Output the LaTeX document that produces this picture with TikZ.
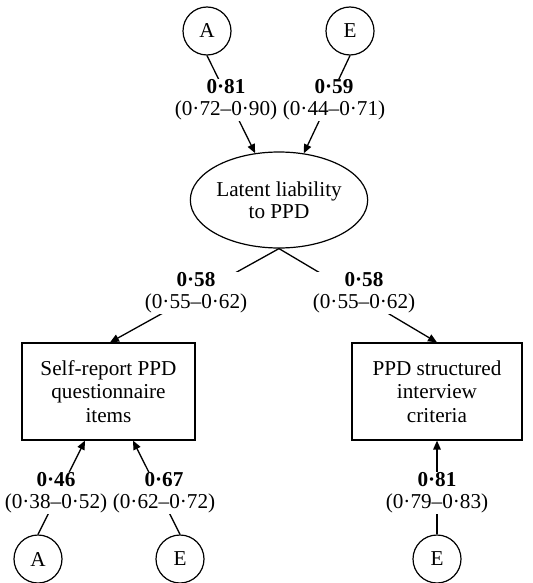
\documentclass[tikz,border=0pt]{standalone}
\usepackage{fontspec}
\setmainfont{Liberation Serif}
\usetikzlibrary{shapes.geometric,arrows.meta}
\begin{document}
\begin{tikzpicture}[x=0.5pt,y=-0.5pt,
  every node/.style={font=\fontsize{10.6}{11}\selectfont},
  latent/.style={circle,draw,line width=0.6pt,minimum size=24pt,inner sep=0pt},
  liab/.style={ellipse,draw,line width=0.6pt,minimum width=72.5pt,minimum height=48pt,inner sep=0pt,align=center},
  obs/.style={rectangle,draw,line width=0.6pt,minimum height=48.5pt,inner sep=0pt,align=center,font=\fontsize{10.6}{11.8}\selectfont},
  est/.style={fill=white,inner sep=0.4pt,align=center},
  path/.style={line width=0.65pt},
  arr/.style={path,-{Triangle[length=4.5pt,width=3.8pt]}}]
\useasboundingbox (0,0) rectangle (532,583);
% nodes
\node[latent] (A1) at (207,31) {A};
\node[latent] (E1) at (350,31) {E};
\node[liab] (lat) at (279,200) {Latent liability\\to PPD};
\node[obs,minimum width=86.5pt] (self) at (108.5,391.5) {Self-report PPD\\questionnaire\\items};
\node[obs,minimum width=85pt] (pst) at (437,391.5) {PPD structured\\interview\\criteria};
\node[latent] (A2) at (38,559) {A};
\node[latent] (E2) at (180,559) {E};
\node[latent] (E3) at (437,559) {E};
% connectors
\draw[arr] (A1.south) -- (lat.117);
\draw[arr] (E1.south) -- (lat.62);
\draw[arr] (lat.south) -- ([xshift=0.75pt]self.north);
\draw[arr] (lat.south) -- (pst.north);
\draw[arr] (A2.north) -- ([xshift=-11.75pt]self.south);
\draw[arr] (E2.north) -- ([xshift=12.25pt]self.south);
\draw[arr] (E3.north) -- (pst.south);
% path coefficients
\node[est] (L1) at (226,100) {\textbf{0·81}\\(0·72–0·90)};
\node[est] (L2) at (334,100) {\textbf{0·59}\\(0·44–0·71)};
\node[est] (L3) at (196,293) {\textbf{0·58}\\(0·55–0·62)};
\node[est] (L4) at (364,293) {\textbf{0·58}\\(0·55–0·62)};
\node[est] (L5) at (56,493) {\textbf{0·46}\\(0·38–0·52)};
\node[est] (L6) at (164,493) {\textbf{0·67}\\(0·62–0·72)};
\node[est] (L7) at (437,493) {\textbf{0·81}\\(0·79–0·83)};
\end{tikzpicture}
\end{document}
